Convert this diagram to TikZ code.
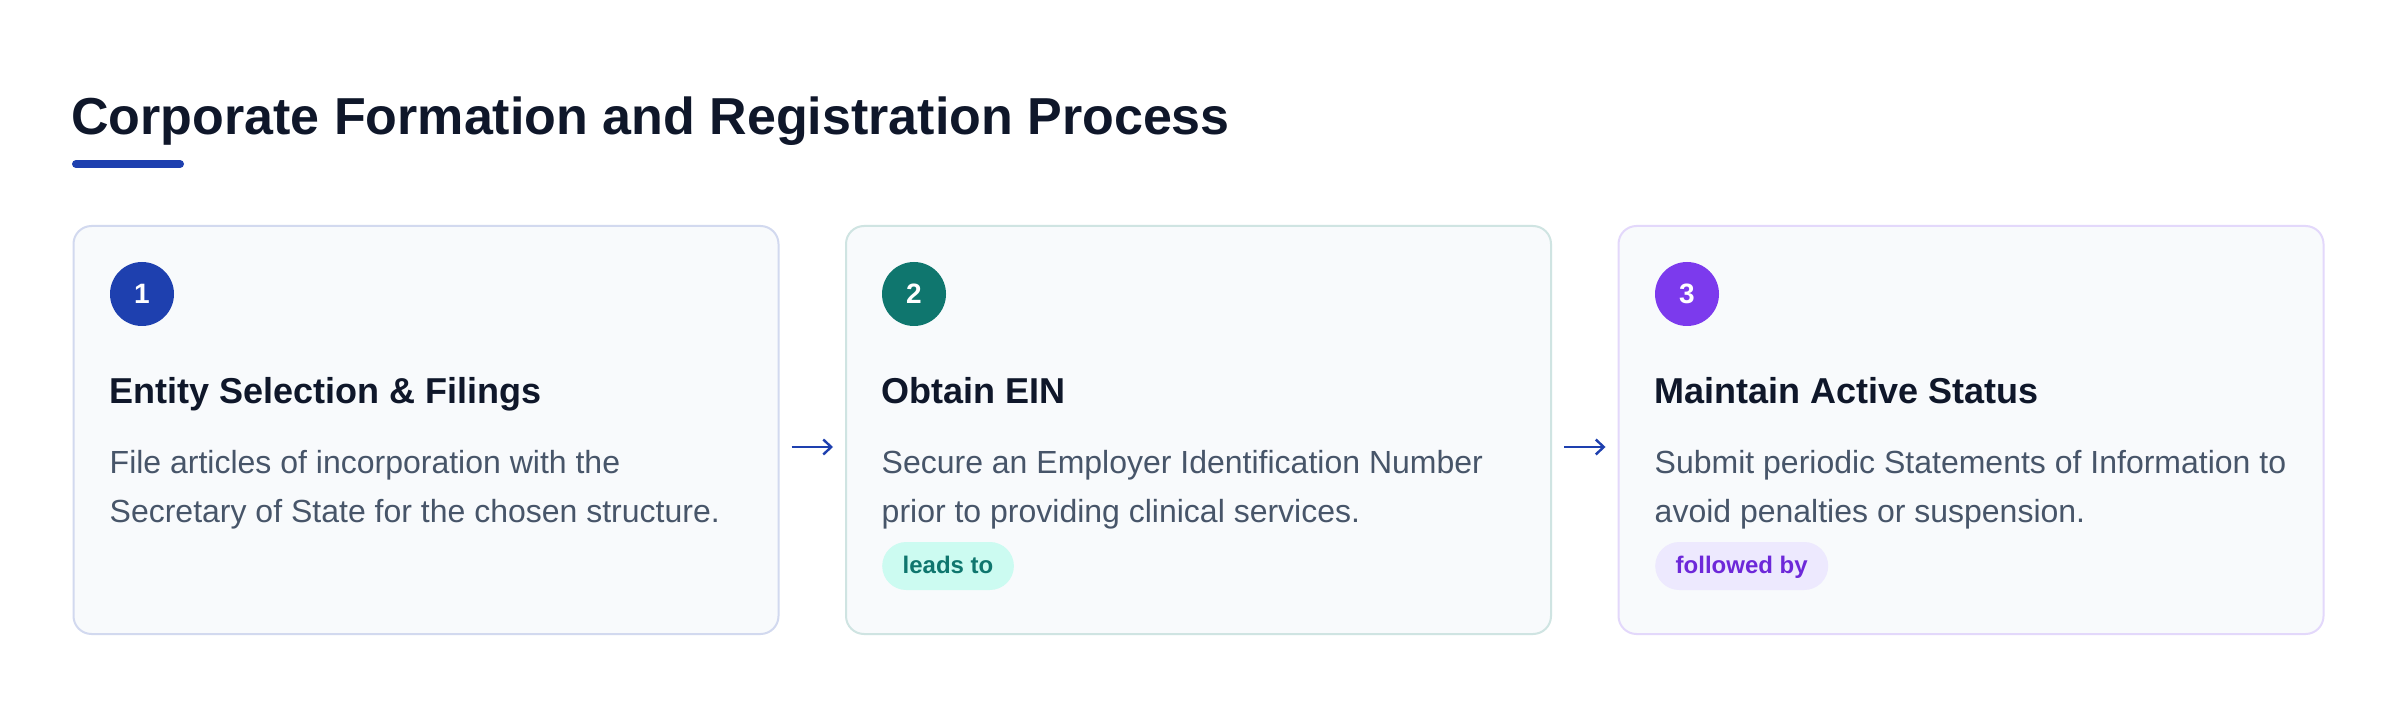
\documentclass[tikz,border=0pt]{standalone}
\usepackage{fontspec}
\setmainfont{Liberation Sans}
\usetikzlibrary{arrows.meta}
\definecolor{ink}{HTML}{0F172A}
\definecolor{muted}{HTML}{475569}
\definecolor{blueA}{HTML}{1E40AF}
\definecolor{tealA}{HTML}{0F766E}
\definecolor{violetA}{HTML}{7C3AED}
\definecolor{cardbg}{HTML}{F8FAFC}
\definecolor{bdrA}{HTML}{D2D9EF}
\definecolor{bdrB}{HTML}{CFE4E2}
\definecolor{bdrC}{HTML}{E3D8FB}
\definecolor{pillB}{HTML}{CCFBF1}
\definecolor{pillC}{HTML}{EDE9FE}
\definecolor{pillCtext}{HTML}{6D28D9}
\begin{document}
\begin{tikzpicture}[x=1pt,y=-1pt,
  card/.style={draw, line width=2pt, fill=cardbg, rounded corners=18pt,
    minimum width=705pt, minimum height=408pt, anchor=north west, inner sep=0pt},
  numdot/.style={circle, minimum size=64pt, inner sep=0pt, text=white,
    font=\fontsize{28}{32}\selectfont\bfseries},
  steptitle/.style={anchor=base west, inner sep=0pt, text=ink,
    font=\fontsize{36}{42}\selectfont\bfseries},
  desc/.style={anchor=base west, inner sep=0pt, text=muted,
    font=\fontsize{32}{40}\selectfont},
  pill/.style={anchor=west, rounded corners=24pt, minimum height=48pt,
    inner xsep=20.5pt, inner ysep=0pt, text height=15pt, text depth=0pt,
    font=\fontsize{24}{28}\selectfont\bfseries},
  flow/.style={draw=blueA, line width=2.4pt, -{Straight Barb[length=8pt,width=15pt]},
    shorten <=12pt, shorten >=12pt}
]
\useasboundingbox (0,0) rectangle (2400,708);
\fill[white] (0,0) rectangle (2400,708);

% title
\node[anchor=base west, inner sep=0pt, text=ink, font=\fontsize{52}{60}\selectfont\bfseries]
  (title) at (71,135) {Corporate Formation and Registration Process};
\draw[blueA, line width=8pt, line cap=round] (76,164) -- (180,164);

% cards
\node[card, draw=bdrA] (card1) at (72.5,225) {};
\node[card, draw=bdrB] (card2) at (845,225) {};
\node[card, draw=bdrC] (card3) at (1617.5,225) {};

% card 1
\node[numdot, fill=blueA] (n1) at (142,294) {1};
\node[steptitle] (t1) at (109,403) {Entity Selection \& Filings};
\node[desc] (d1a) at (109.5,473) {File articles of incorporation with the};
\node[desc] (d1b) at (109.5,522) {Secretary of State for the chosen structure.};

% card 2
\node[numdot, fill=tealA] (n2) at (914,294) {2};
\node[steptitle] (t2) at (881,403) {Obtain EIN};
\node[desc] (d2a) at (881.5,473) {Secure an Employer Identification Number};
\node[desc] (d2b) at (881.5,522) {prior to providing clinical services.};
\node[pill, fill=pillB, text=tealA] (p2) at (882,566) {leads to};

% card 3
\node[numdot, fill=violetA] (n3) at (1687,294) {3};
\node[steptitle] (t3) at (1654,403) {Maintain Active Status};
\node[desc] (d3a) at (1654.5,473) {Submit periodic Statements of Information to};
\node[desc] (d3b) at (1654.5,522) {avoid penalties or suspension.};
\node[pill, fill=pillC, text=pillCtext] (p3) at (1655,566) {followed by};

% connectors
\coordinate (ay) at (0,447);
\draw[flow] (card1.east |- ay) -- (card2.west |- ay);
\draw[flow] (card2.east |- ay) -- (card3.west |- ay);
\end{tikzpicture}
\end{document}
